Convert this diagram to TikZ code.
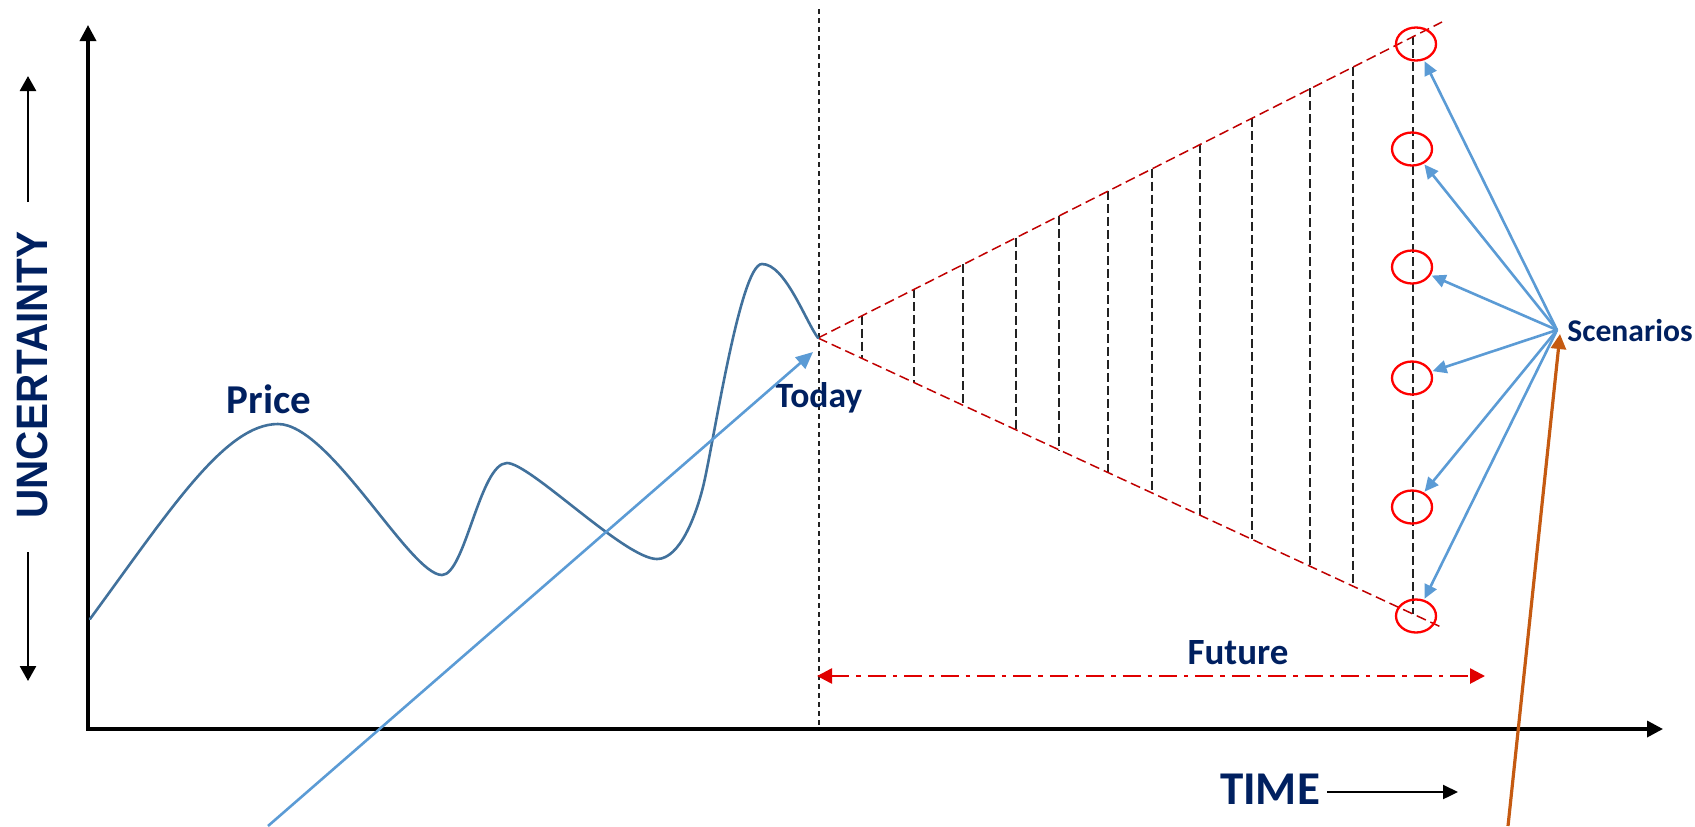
\documentclass[tikz,border=0pt]{standalone}
\usepackage{fontspec}
\setmainfont{Carlito}
\newfontfamily\axisfont{Liberation Sans}
\usetikzlibrary{arrows.meta,shapes.geometric}
\definecolor{navy}{HTML}{002060}
\definecolor{pricecol}{HTML}{41719C}
\definecolor{skyblue}{HTML}{5B9BD5}
\definecolor{conered}{HTML}{C00000}
\definecolor{ringred}{HTML}{FF0000}
\definecolor{futurered}{HTML}{E00000}
\definecolor{rust}{HTML}{C55A11}
\definecolor{hatch}{HTML}{222222}

\begin{document}
\begin{tikzpicture}[x=0.5pt,y=-0.5pt,
  axisline/.style={line width=1.7pt,
    {Triangle[length=8pt,width=8pt]}-{Triangle[length=8pt,width=8pt]}},
  uarrow/.style={line width=1.3pt,-{Triangle[length=7.5pt,width=8pt]}},
  timearrow/.style={line width=1.1pt,-{Triangle[length=7.5pt,width=7pt]}},
  todayline/.style={line width=0.65pt,hatch,dash pattern=on 2.5pt off 2pt},
  conestyle/.style={line width=0.75pt,conered,dash pattern=on 5pt off 2.5pt},
  hatchline/.style={line width=0.7pt,hatch,dash pattern=on 4.5pt off 2pt},
  pricecurve/.style={line width=1.3pt,pricecol,line cap=round},
  skyarrow/.style={line width=1.3pt,skyblue,-{Triangle[length=8.5pt,width=7.5pt]}},
  scenarrow/.style={line width=1.3pt,skyblue,shorten >=0.5pt,-{Triangle[length=7pt,width=6.5pt]}},
  rustarrow/.style={line width=1.6pt,rust,-{Triangle[length=7.5pt,width=7.5pt]}},
  futurearrow/.style={line width=1.3pt,futurered,
    dash pattern=on 9pt off 3.5pt on 2.2pt off 3.5pt,
    {Triangle[length=7.5pt,width=7.5pt]}-{Triangle[length=7.5pt,width=7.5pt]}},
  ring/.style={ellipse,draw=ringred,line width=1.15pt,minimum width=20pt,
    minimum height=16.5pt,inner sep=0pt},
  tagtext/.style={text=navy,inner sep=0pt,font=\bfseries}
]
\useasboundingbox (0,0) rectangle (1695,826);

% future cone and its hatching
\coordinate (apex) at (818,338);
\coordinate (coneup) at (1442,22);
\coordinate (conelow) at (1441,627);
\foreach \x in {862,914,963,1016,1059,1108,1152,1200,1252,1310,1353,1413}
  \draw[hatchline] (\x,{338-(\x-818)*0.5072}) -- (\x,{338+(\x-818)*0.4639});
\draw[conestyle] (apex) -- (coneup);
\draw[conestyle] (apex) -- (conelow);

% today marker
\coordinate (todaytop) at (819,9);
\coordinate (todaybot) at (819,729);
\draw[todayline] (todaytop) -- (todaybot);

% axes
\coordinate (ytop) at (88,25);
\coordinate (origin) at (88,729);
\coordinate (xend) at (1663,729);
\draw[axisline] (ytop) -- (origin) -- (xend);

% uncertainty arrows and label
\coordinate (uatail) at (28,202);
\coordinate (uahead) at (28,76);
\coordinate (ubtail) at (28,552);
\coordinate (ubhead) at (28,681);
\draw[uarrow] (uatail) -- (uahead);
\draw[uarrow] (ubtail) -- (ubhead);
\node[text=navy,inner sep=0pt,rotate=90,
  font=\axisfont\bfseries\fontsize{22pt}{25pt}\selectfont] (uncert) at (32,375)
  {\scalebox{0.92}[1]{UNCERTAINTY}};

% price history
\draw[pricecurve] (90,619)
  .. controls (170,510) and (225,424) .. (278,424)
  .. controls (330,424) and (410,575) .. (442,575)
  .. controls (465,575) and (480,463) .. (507,463)
  .. controls (530,463) and (625,559) .. (657,559)
  .. controls (680,559) and (696,515) .. (703,487)
  .. controls (713,447) and (740,264) .. (762,264)
  .. controls (785,264) and (805,320) .. (apex);

% labels
\node[tagtext,anchor=base,font=\bfseries\fontsize{20.5pt}{24pt}\selectfont]
  (price) at (269,413) {Price};
\node[tagtext,anchor=base,font=\bfseries\fontsize{17.8pt}{21pt}\selectfont]
  (today) at (819,407) {Today};
\node[tagtext,anchor=base west,font=\bfseries\fontsize{15.8pt}{19pt}\selectfont]
  (scen) at (1567,341) {Scenarios};
\node[tagtext,anchor=base,font=\bfseries\fontsize{18.5pt}{22pt}\selectfont]
  (future) at (1238,664) {Future};
\node[tagtext,anchor=base,font=\bfseries\fontsize{23.5pt}{28pt}\selectfont]
  (time) at (1270,804) {TIME};

% time arrow
\coordinate (timetip) at (1458,792);
\draw[timearrow] ([xshift=3.5pt]time.east |- timetip) -- (timetip);

% future span
\coordinate (fleft) at (817,676);
\coordinate (fright) at (1485,676);
\draw[futurearrow] (fleft) -- (fright);

% arrow pointing at today
\coordinate (todaytail) at (268,826);
\coordinate (todaytip) at (813,352);
\draw[skyarrow] (todaytail) -- (todaytip);

% scenario rings
\node[ring] (s1) at (1416,44) {};
\node[ring] (s2) at (1412,149) {};
\node[ring] (s3) at (1412,267) {};
\node[ring] (s4) at (1412,378) {};
\node[ring] (s5) at (1412,507) {};
\node[ring] (s6) at (1416,616) {};

% scenario arrows
\coordinate (hub) at (1557,330);
\foreach \i in {1,...,6}
  \draw[scenarrow] (hub) -- (s\i);

% rust arrow
\coordinate (rusttail) at (1508,826);
\coordinate (rusttip) at (1560,334);
\draw[rustarrow] (rusttail) -- (rusttip);
\end{tikzpicture}
\end{document}
